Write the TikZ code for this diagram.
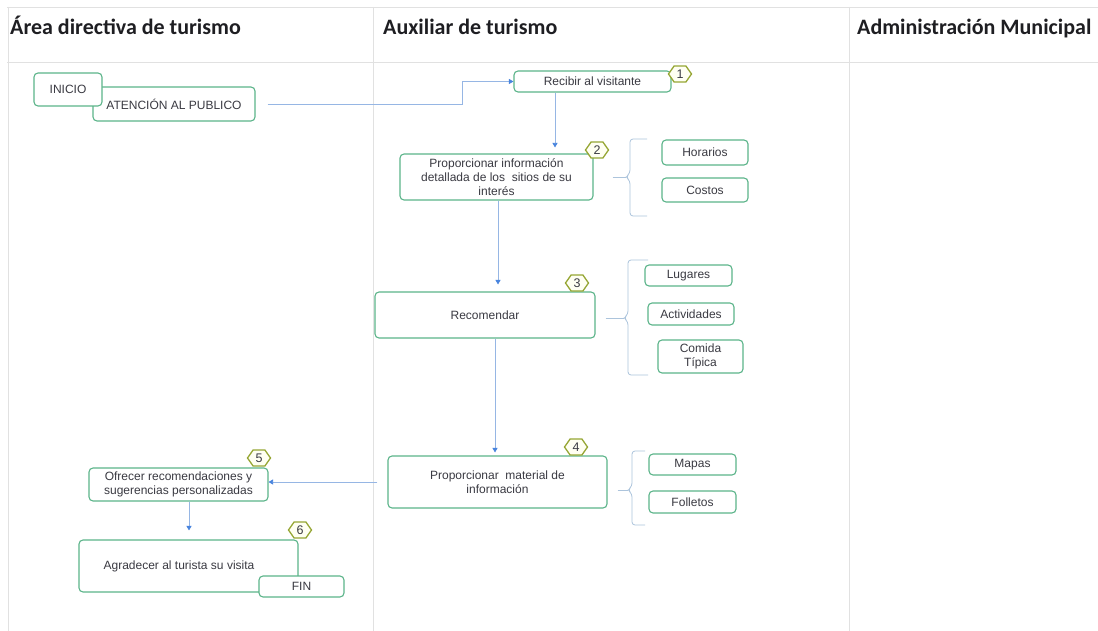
\documentclass[tikz,border=0pt]{standalone}
\usepackage{fontspec}
\setmainfont{Liberation Sans}
\newfontfamily\headfont{Carlito}
\usetikzlibrary{arrows.meta,shapes.symbols,calc}
\definecolor{boxgreen}{RGB}{92,180,138}
\definecolor{txt}{RGB}{58,58,66}
\definecolor{headtxt}{RGB}{30,30,34}
\definecolor{connblue}{RGB}{150,182,228}
\definecolor{arrowblue}{RGB}{72,132,222}
\definecolor{brkblue}{RGB}{172,196,220}
\definecolor{badgeline}{RGB}{150,166,52}
\definecolor{badgefill}{RGB}{255,255,242}
\definecolor{gridgray}{RGB}{225,225,225}
\begin{document}
\begin{tikzpicture}[x=1pt,y=-1pt,
  box/.style 2 args={draw=boxgreen, line width=1.1pt, rounded corners=4pt, fill=white,
    text=txt, font=\fontsize{12}{14}\selectfont, align=center, inner sep=0pt,
    minimum width=#1pt, minimum height=#2pt},
  head/.style={font=\headfont\bfseries\fontsize{22}{24}\selectfont, text=headtxt, inner sep=0pt, anchor=base west},
  badge/.style={shape=signal, signal to=east and west, signal pointer angle=110,
    draw=badgeline, line width=1.3pt, fill=badgefill, text=txt,
    font=\fontsize{12.5}{13}\selectfont, minimum width=23pt, minimum height=16pt, inner sep=0pt},
  conn/.style={draw=connblue, line width=0.8pt, -{Triangle[length=4.5pt,width=5pt,color=arrowblue]}},
  brk/.style={draw=brkblue, line width=0.8pt},
  gridline/.style={draw=gridgray, line width=0.5pt}
]
\path[use as bounding box] (0,0) rectangle (1098,631);
\fill[white] (0,0) rectangle (1098,631);

% grid
\draw[gridline] (7,7) -- (1098,7);
\draw[gridline] (7,62) -- (1098,62);
\draw[gridline] (8,7) -- (8,631);
\draw[gridline] (373,7) -- (373,631);
\draw[gridline] (849,7) -- (849,631);

% headers
\node[head] (h1) at (10,35) {Área directiva de turismo};
\node[head] (h2) at (383,35) {Auxiliar de turismo};
\node[head] (h3) at (857,35) {Administración Municipal};

% boxes
\node[box={162}{34}] (atencion) at (174,104) {ATENCIÓN AL PUBLICO};
\node[box={68}{33}] (inicio) at (68,89.5) {INICIO};
\node[box={157}{21}] (recibir) at (592.5,81.5) {Recibir al visitante};
\node[box={193}{46}] (prop) at (496.5,177) {Proporcionar información\\detallada de los \ sitios de su\\interés};
\node[box={86}{25}] (horarios) at (705,152.5) {Horarios};
\node[box={86}{24}] (costos) at (705,190) {Costos};
\node[box={220}{46}] (recom) at (485,315) {Recomendar};
\node[box={87}{21}] (lugares) at (688.5,275.5) {Lugares};
\node[box={86}{22}] (actividades) at (691,314) {Actividades};
\node[box={85}{33}] (comida) at (700.5,356.5) {Comida\\Típica};
\node[box={219}{52}] (material) at (497.5,482) {Proporcionar \ material de\\información};
\node[box={87}{21}] (mapas) at (692.5,464.5) {Mapas};
\node[box={87}{22}] (folletos) at (692.5,502) {Folletos};
\node[box={179}{33}] (ofrecer) at (178.5,484.5) {Ofrecer recomendaciones y\\sugerencias personalizadas};
\node[box={219}{52}] (agradecer) at (188.5,566) {Agradecer al turista su visita\hspace{19pt}};
\node[box={85}{21}] (fin) at (301.5,586.5) {FIN};

% badges
\node[badge] (b1) at (680,74) {1};
\node[badge] (b2) at (597,150) {2};
\node[badge] (b3) at (577,283) {3};
\node[badge] (b4) at (576,447) {4};
\node[badge] (b5) at (259,458) {5};
\node[badge] (b6) at (300,530) {6};

% connectors
\draw[conn, shorten <=12pt] (atencion.east) -- ++(207,0) |- (recibir.west);
\draw[conn, shorten >=6pt] ([xshift=-37.5pt]recibir.south) -- ([xshift=-37.5pt]recibir.south |- prop.north);
\draw[conn, shorten >=7pt] ([xshift=1.5pt]prop.south) -- ([xshift=1.5pt]prop.south |- recom.north);
\draw[conn, shorten >=3pt] ([xshift=10pt]recom.south) -- ([xshift=10pt]recom.south |- material.north);
\draw[conn, shorten <=10pt] (material.west) -- (material.west -| ofrecer.east);
\draw[conn, shorten >=9pt] ([xshift=10.5pt]ofrecer.south) -- ([xshift=10.5pt]ofrecer.south |- agradecer.north);

% brackets
\draw[brk] ([xshift=19pt]prop.east) -- (626,177);
\draw[brk, rounded corners=3pt] (647,139) -- (630,139) -- (630,173) -- (626,177) -- (630,181) -- (630,216) -- (647,216);
\draw[brk] ([xshift=10pt,yshift=-3pt]recom.east) -- (624,318);
\draw[brk, rounded corners=3pt] (648,260) -- (628,260) -- (628,314) -- (624,318) -- (628,322) -- (628,375) -- (648,375);
\draw[brk] ([xshift=10pt,yshift=-8pt]material.east) -- (628,490);
\draw[brk, rounded corners=3pt] (645,451) -- (632,451) -- (632,486) -- (628,490) -- (632,494) -- (632,525) -- (645,525);
\end{tikzpicture}
\end{document}
